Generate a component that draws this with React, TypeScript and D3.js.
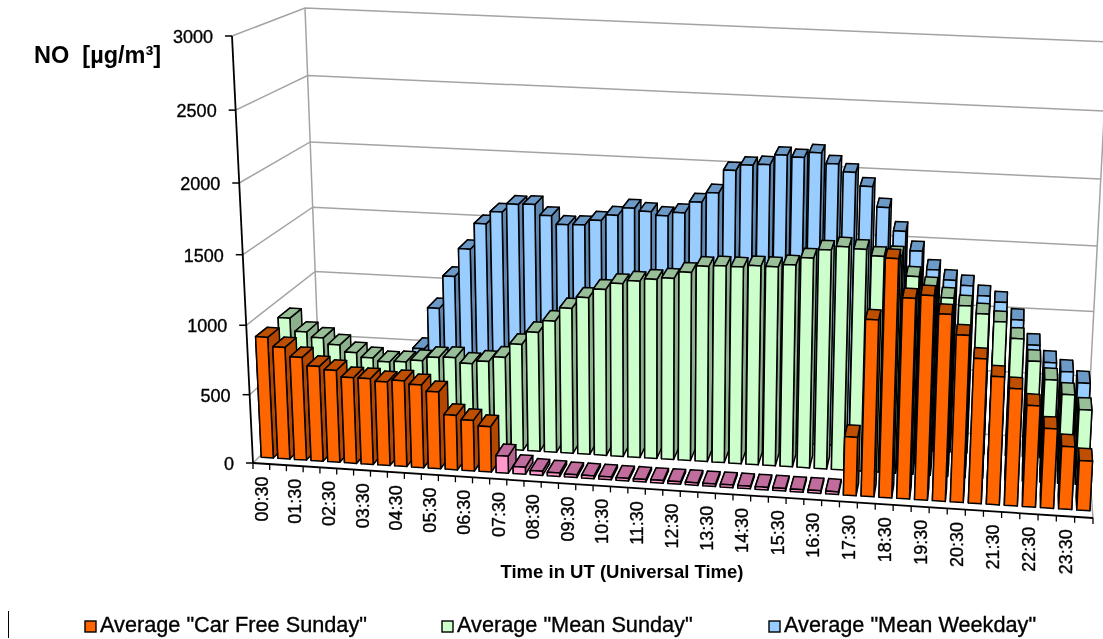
import React from "react";
import * as d3 from "d3";

const timeLabels = ["00:30","01:30","02:30","03:30","04:30","05:30","06:30","07:30","08:30","09:30","10:30","11:30","12:30","13:30","14:30","15:30","16:30","17:30","18:30","19:30","20:30","21:30","22:30","23:30"];
const yTicks = [0, 500, 1000, 1500, 2000, 2500, 3000];

const carFreeEarly = [884,819,754,696,674,629,629,613,629,607,563,401,372,334];
const carFreeGap = [125,52,31,26,21,21,21,19,19,19,19,19,19,19,19,19,19,19,19,19];
const carFreeLate = [425,1270,1706,1436,1464,1339,1200,1041,921,844,731,574,453,360];
const meanSunday = [891,795,758,713,661,630,607,614,630,661,668,630,653,691,795,891,982,1083,1169,1235,1285,1310,1330,1345,1395,1445,1455,1455,1470,1470,1490,1547,1612,1641,1631,1587,1597,1455,1385,1315,1265,1214,1164,1048,891,763,661,557];
const meanWeekday = [467,416,364,334,313,313,323,566,884,1133,1346,1542,1637,1700,1705,1628,1567,1572,1612,1656,1715,1696,1672,1700,1785,1859,2030,2075,2085,2160,2150,2190,2115,2060,1962,1815,1647,1507,1375,1304,1270,1200,1160,1035,852,728,666,587];

const legendNames = ['Average "Car Free Sunday"', 'Average "Mean Sunday"', 'Average "Mean Weekday"'];

type Pt = [number, number];
const FL0: Pt = [253, 463], FR0: Pt = [1093, 518], BL0: Pt = [320, 397], BR0: Pt = [1087, 440];
const FL3: Pt = [232, 36], FR3: Pt = [1116, 83], BL3: Pt = [305, 8], BR3: Pt = [1108, 42];

const N = carFreeEarly.length + carFreeGap.length + carFreeLate.length;
const KX = 1.05, KZ = 1.05;
const xScale = d3.scaleLinear().domain([0, N]).range([0, 1]);
const zScale = d3.scaleLinear().domain([0, 3000]).range([0, 1]);
const warpX = (i: number) => { const u = xScale(i); return u / (KX - (KX - 1) * u); };
const warpZ = (val: number) => { const z = zScale(val); return z / (KZ - (KZ - 1) * z); };
const lerp = (a: Pt, b: Pt, t: number): Pt => [a[0] + (b[0] - a[0]) * t, a[1] + (b[1] - a[1]) * t];

function project(i: number, v: number, val: number): Pt {
  const u = warpX(i), z = warpZ(val);
  const f0 = lerp(FL0, FR0, u), b0 = lerp(BL0, BR0, u), f3 = lerp(FL3, FR3, u), b3 = lerp(BL3, BR3, u);
  return lerp(lerp(f0, b0, v), lerp(f3, b3, v), z);
}
const poly = (pts: Pt[]) => pts.map((p) => `${p[0].toFixed(1)},${p[1].toFixed(1)}`).join(" ");

const palette = {
  orange: { face: "#FF6600", top: "#BF5000", side: "#B34700" },
  green: { face: "#CCFFCC", top: "#99BF99", side: "#8CAF8C" },
  blue: { face: "#99CCFF", top: "#6C99C6", side: "#5F86AE" },
  pink: { face: "#FF99CC", top: "#C06C9C", side: "#B3648F" },
};
type Col = typeof palette.orange;
const DEPTH = 0.17, GAP = 0.14;

function Bar({ i, val, v, c }: { i: number; val: number; v: number; c: Col }) {
  const a = i + GAP, b = i + 1 - GAP, v1 = v + DEPTH;
  const p = (x: number, y: number, h: number) => project(x, y, h);
  const common = { stroke: "#000", strokeWidth: 1.5, strokeLinejoin: "round" as const };
  return (
    <g>
      <polygon points={poly([p(a, v, 0), p(a, v1, 0), p(a, v1, val), p(a, v, val)])} fill={c.side} {...common} />
      <polygon points={poly([p(b, v, 0), p(b, v1, 0), p(b, v1, val), p(b, v, val)])} fill={c.side} {...common} />
      <polygon points={poly([p(a, v, val), p(b, v, val), p(b, v1, val), p(a, v1, val)])} fill={c.top} {...common} />
      <polygon points={poly([p(a, v, 0), p(b, v, 0), p(b, v, val), p(a, v, val)])} fill={c.face} {...common} />
    </g>
  );
}

function drawOrder(): number[] {
  const idx = d3.range(N);
  const turn = idx.findIndex((i) => project(i, 0.3, 0)[0] < project(i, 0.15, 0)[0]);
  const t = turn < 0 ? N : turn;
  return [...idx.slice(0, t), ...idx.slice(t).reverse()];
}

export default function App() {
  const order = drawOrder();
  const gridColor = "#a3a3a3";
  const frontValues = [...carFreeEarly, ...carFreeGap, ...carFreeLate];
  const gapStart = carFreeEarly.length, gapEnd = gapStart + carFreeGap.length;
  const font = "'Liberation Sans', Arial, sans-serif";
  const ink = { fill: "#000", stroke: "#000", strokeWidth: 0.35 };
  return (
    <svg width={1103} height={639} style={{ position: "fixed", left: 0, top: 0, display: "block", background: "#fff" }} fontFamily={font}>
      <defs>
        <filter id="soft" x="0" y="0" width="100%" height="100%" filterUnits="objectBoundingBox">
          <feGaussianBlur stdDeviation="0.45" />
        </filter>
      </defs>
      <g filter="url(#soft)">
        <rect x={0} y={0} width={1103} height={639} fill="#fff" />
        {yTicks.map((t) => {
          const a = project(0, 0, t), b = project(0, 1, t), c = project(N, 1, t);
          return <polyline key={t} points={poly([a, b, c])} fill="none" stroke={gridColor} strokeWidth={1.5} />;
        })}
        <line x1={project(0, 1, 0)[0]} y1={project(0, 1, 0)[1]} x2={project(0, 1, 3000)[0]} y2={project(0, 1, 3000)[1]} stroke={gridColor} strokeWidth={1.5} />
        <line x1={project(N, 1, 0)[0]} y1={project(N, 1, 0)[1]} x2={project(N, 1, 3000)[0]} y2={project(N, 1, 3000)[1]} stroke={gridColor} strokeWidth={1.5} />
        <line x1={project(N, 0, 0)[0]} y1={project(N, 0, 0)[1]} x2={project(N, 1, 0)[0]} y2={project(N, 1, 0)[1]} stroke={gridColor} strokeWidth={1.5} />

        {order.map((i) => <Bar key={"b" + i} i={i} val={meanWeekday[i]} v={0.74} c={palette.blue} />)}
        {order.map((i) => <Bar key={"g" + i} i={i} val={meanSunday[i]} v={0.42} c={palette.green} />)}
        {order.map((i) => <Bar key={"o" + i} i={i} val={frontValues[i]} v={0.09} c={i >= gapStart && i < gapEnd ? palette.pink : palette.orange} />)}

        <line x1={FL0[0]} y1={FL0[1]} x2={FL3[0]} y2={FL3[1]} stroke="#000" strokeWidth={1.8} />
        <line x1={FL0[0]} y1={FL0[1]} x2={FR0[0]} y2={FR0[1]} stroke="#000" strokeWidth={1.8} />
        {yTicks.map((t) => {
          const p = project(0, 0, t);
          return (
            <g key={t}>
              <line x1={p[0] - 7} y1={p[1]} x2={p[0]} y2={p[1]} stroke="#000" strokeWidth={1.5} />
              <text x={p[0] - 19} y={p[1] + 7} textAnchor="end" fontSize={18} {...ink}>{t}</text>
            </g>
          );
        })}
        {d3.range(N + 1).map((i) => {
          const p = project(i, 0, 0);
          return <line key={i} x1={p[0]} y1={p[1]} x2={p[0]} y2={p[1] + 6} stroke="#000" strokeWidth={1.3} />;
        })}
        {timeLabels.map((l, k) => {
          const p = project(k * 2 + 0.5, 0, 0);
          return <text key={l} transform={`translate(${p[0] + 6.5},${p[1] + 13}) rotate(-90)`} textAnchor="end" fontSize={18} {...ink}>{l}</text>;
        })}

        <text x={34} y={63} fontSize={23.5} fontWeight="bold" fill="#000" xmlSpace="preserve">NO  [µg/m³]</text>
        <text x={622} y={578} textAnchor="middle" fontSize={18.5} fontWeight="bold" fill="#000">Time in UT (Universal Time)</text>

        <line x1={8.5} y1={611} x2={8.5} y2={638} stroke="#000" strokeWidth={1} />
        {legendNames.map((name, k) => {
          const c = [palette.orange, palette.green, palette.blue][k];
          const sx = [85, 442, 769][k];
          return (
            <g key={name}>
              <rect x={sx} y={621} width={11} height={11} fill={c.face} stroke="#000" strokeWidth={1.4} />
              <text x={sx + 15} y={632} fontSize={21.7} {...ink}>{name}</text>
            </g>
          );
        })}
      </g>
    </svg>
  );
}
